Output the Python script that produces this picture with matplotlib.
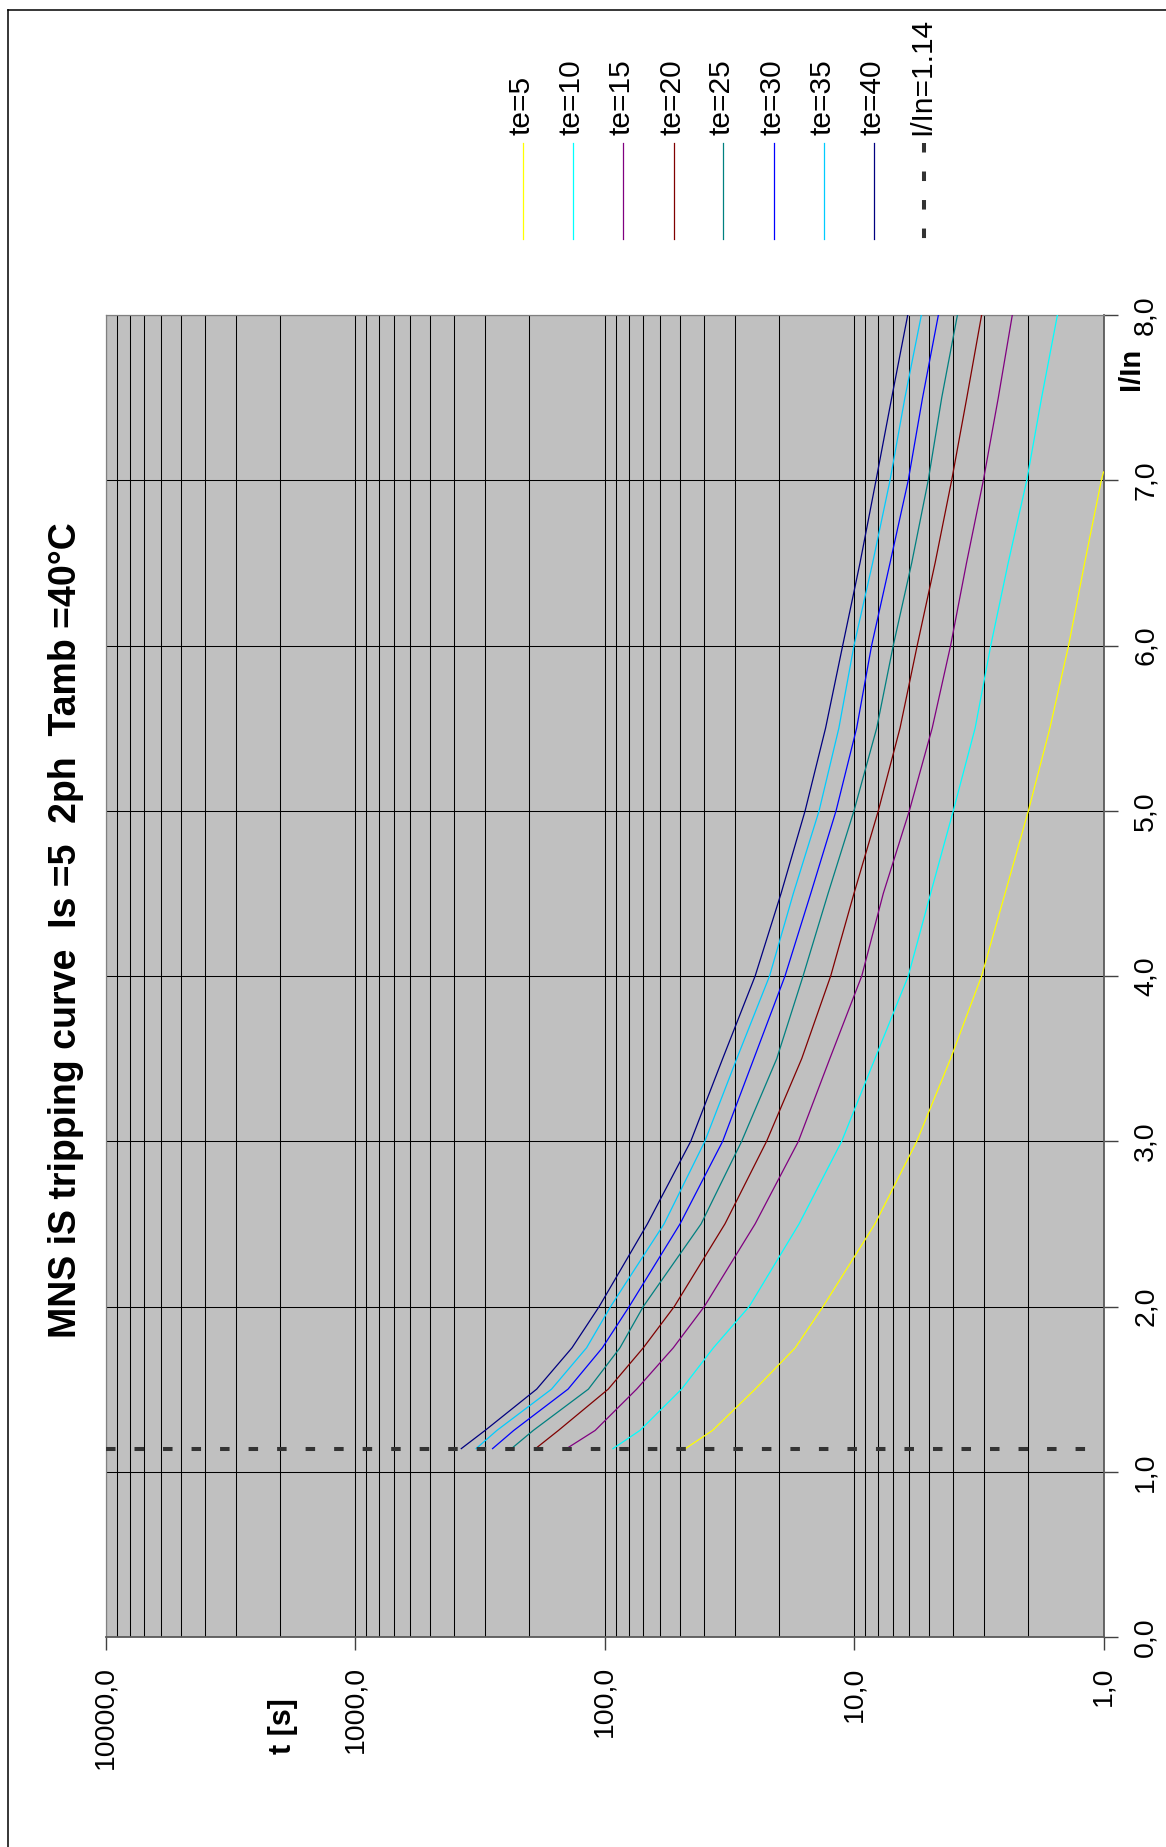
import matplotlib
matplotlib.use('Agg')
import matplotlib.pyplot as plt
from matplotlib.lines import Line2D
from matplotlib.ticker import LogLocator, NullFormatter

plt.rcParams['font.family'] = ['Liberation Sans', 'DejaVu Sans']

# ---------------- data ----------------
TITLE = "MNS iS tripping curve  Is =5  2ph  Tamb =40°C"
X_LABEL = "I/In"
Y_LABEL = "t [s]"

I_IN = [1.14, 1.25, 1.5, 1.75, 2.0, 2.5, 3.0, 3.5, 4.0, 4.5, 5.0, 5.5, 6.0, 6.5, 7.0, 7.5, 8.0]
I_IN_TE5 = [1.14, 1.25, 1.5, 1.75, 2.0, 2.5, 3.0, 3.5, 4.0, 4.5, 5.0, 5.5, 6.0, 6.5, 7.0, 7.05]

T_TE5 = [47.4, 36.9, 24.9, 17.2, 13.3, 8.24, 5.6, 4.1, 3.08, 2.48, 2.0, 1.64, 1.38, 1.19, 1.02, 1.0]
T_TE10 = [92.5, 72.1, 49.1, 36.6, 26.3, 16.6, 11.2, 8.24, 6.06, 4.93, 4.0, 3.27, 2.83, 2.41, 2.03, 1.77, 1.53]
T_TE15 = [142, 109, 74.3, 53, 39.8, 24.9, 16.7, 12.5, 9.31, 7.63, 6.0, 4.86, 4.10, 3.54, 3.03, 2.64, 2.32]
T_TE20 = [189, 153, 96.6, 69.9, 52.5, 32.9, 22.4, 16.2, 12.4, 10.0, 7.99, 6.54, 5.58, 4.73, 4.06, 3.53, 3.08]
T_TE25 = [236, 193, 116, 86.7, 69.9, 41.0, 28.2, 20.4, 16.0, 12.7, 10.0, 8.11, 6.96, 5.87, 5.04, 4.45, 3.85]
T_TE30 = [281, 231, 140, 102, 79.6, 49.8, 33.6, 25.2, 18.9, 14.9, 11.8, 9.76, 8.5, 7.17, 6.06, 5.31, 4.59]
T_TE35 = [327, 270, 163, 118, 94.5, 57.7, 39.6, 29.5, 21.8, 17.5, 13.8, 11.5, 10.0, 8.42, 7.17, 6.25, 5.37]
T_TE40 = [375, 301, 187, 135, 105, 67.3, 45.1, 33.6, 24.9, 19.6, 15.7, 13.0, 11.1, 9.46, 8.16, 7.06, 6.09]

SERIES_LABELS = ["te=5", "te=10", "te=15", "te=20", "te=25", "te=30", "te=35", "te=40"]
SERIES_COLORS = ["#FFFF00", "#00FFFF", "#800080", "#800000", "#008080", "#0000FF", "#00CCFF", "#000080"]

LIMIT_LABEL = "I/In=1.14"
LIMIT_VALUE = 1.14

T_TICKS = [1, 10, 100, 1000, 10000]
T_TICK_LABELS = ["1,0", "10,0", "100,0", "1000,0", "10000,0"]
I_TICKS = [0, 1, 2, 3, 4, 5, 6, 7, 8]
I_TICK_LABELS = ["0,0", "1,0", "2,0", "3,0", "4,0", "5,0", "6,0", "7,0", "8,0"]

# ---------------- layout ----------------
W, H = 1166, 1847
fig = plt.figure(figsize=(W / 100, H / 100), dpi=100, facecolor='white')


def fx(px):
    return px / W


def fy(py):
    return 1 - py / H


AX_L, AX_R, AX_T, AX_B = 105.5, 1103.5, 315, 1637
ax = fig.add_axes([fx(AX_L), fy(AX_B), (AX_R - AX_L) / W, (AX_B - AX_T) / H])
ax.set_facecolor('#C0C0C0')
ax.set_xscale('log')
ax.set_xlim(10000, 1)
ax.set_ylim(0, 8)
ax.set_axisbelow(True)

# ticks
ax.set_xticks(T_TICKS)
ax.set_xticklabels(T_TICK_LABELS, rotation=90)
ax.xaxis.set_minor_locator(LogLocator(base=10, subs=range(2, 10)))
ax.xaxis.set_minor_formatter(NullFormatter())
ax.tick_params(axis='x', which='minor', length=0)
ax.tick_params(axis='x', which='major', length=9, width=1.0, color='#404040',
               pad=12, labelsize=20.5)
ax.yaxis.tick_right()
ax.set_yticks(I_TICKS)
ax.set_yticklabels(I_TICK_LABELS, rotation=90, va='center')
ax.tick_params(axis='y', which='major', length=10, width=1.0, color='#404040',
               pad=11, labelsize=20.5)

# grid
ax.grid(True, which='both', axis='x', color='black', lw=0.75)
ax.grid(True, which='major', axis='y', color='black', lw=0.75)

for side in ['top', 'left']:
    ax.spines[side].set_color('#808080')
    ax.spines[side].set_linewidth(0.9)
for side in ['bottom', 'right']:
    ax.spines[side].set_color('#5A5A5A')
    ax.spines[side].set_linewidth(1.3)

# curves
series_times = [T_TE5, T_TE10, T_TE15, T_TE20, T_TE25, T_TE30, T_TE35, T_TE40]
for k, (times, color) in enumerate(zip(series_times, SERIES_COLORS)):
    currents = I_IN_TE5 if k == 0 else I_IN
    ax.plot(times, currents, color=color, lw=0.9, zorder=3)

DASH = (0, (2.36, 4.72))
ax.axhline(LIMIT_VALUE, color='#333333', lw=2.9, linestyle=DASH,
           dash_capstyle='butt', zorder=4)

# legend (drawn manually, rotated like the chart)
LEG_X = [523.4, 573.2, 623.0, 673.6, 723.4, 774.0, 823.8, 873.6]
for x, color, lab in zip(LEG_X, SERIES_COLORS, SERIES_LABELS):
    fig.add_artist(Line2D([fx(x), fx(x)], [fy(143), fy(239)],
                          transform=fig.transFigure, color=color, lw=0.9))
    fig.text(fx(x - 1.5), fy(135), lab, rotation=90, ha='center', va='bottom',
             fontsize=21.5)
xd = 924.2
fig.add_artist(Line2D([fx(xd), fx(xd)], [fy(143), fy(239)],
                      transform=fig.transFigure, color='#333333', lw=2.9,
                      linestyle=DASH, dash_capstyle='butt'))
fig.text(fx(xd - 1.5), fy(135), LIMIT_LABEL, rotation=90, ha='center',
         va='bottom', fontsize=21.5)

# titles / axis labels
fig.text(fx(66.5), fy(930), TITLE, rotation=90, ha='center', va='center',
         fontsize=27, fontweight='bold')
fig.text(fx(283), fy(1726), Y_LABEL, rotation=90, ha='center', va='center',
         fontsize=22, fontweight='bold')
fig.text(fx(1131), fy(369), X_LABEL, rotation=90, ha='center', va='center',
         fontsize=21, fontweight='bold')

# outer frame lines (top and left only)
fig.add_artist(Line2D([fx(8), fx(1166)], [fy(10), fy(10)],
                      transform=fig.transFigure, color='black', lw=1.1))
fig.add_artist(Line2D([fx(8), fx(8)], [fy(10), fy(1847)],
                      transform=fig.transFigure, color='black', lw=1.1))

fig.savefig('out.png', dpi=100, facecolor='white')
